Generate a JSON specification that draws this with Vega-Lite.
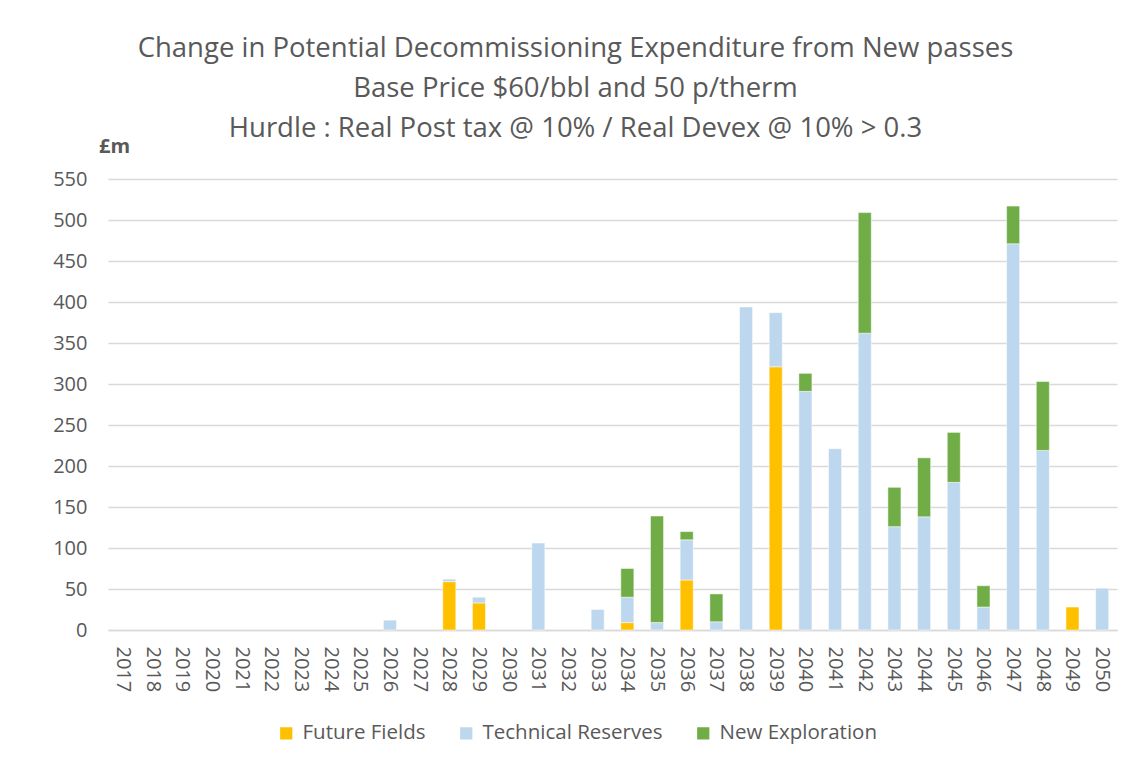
{
  "$schema": "https://vega.github.io/schema/vega-lite/v6.json",
  "width": 1009,
  "height": 451,
  "autosize": {"type": "none"},
  "padding": {"left": 108, "top": 179, "right": 19, "bottom": 139},
  "background": "white",
  "title": {
    "text": ["Change in Potential Decommissioning Expenditure from New passes", "Base Price $60/bbl and 50 p/therm", "Hurdle : Real Post tax @ 10% / Real Devex @ 10% > 0.3"],
    "anchor": "middle",
    "dx": -37,
    "offset": -6,
    "font": "Open Sans",
    "fontSize": 27.5,
    "fontWeight": "normal",
    "color": "#595959",
    "lineHeight": 40
  },
  "data": {
    "values": [
      {"year": "2026", "series": "Technical Reserves", "value": 12},
      {"year": "2028", "series": "Future Fields", "value": 59},
      {"year": "2028", "series": "Technical Reserves", "value": 3},
      {"year": "2029", "series": "Future Fields", "value": 33},
      {"year": "2029", "series": "Technical Reserves", "value": 7},
      {"year": "2031", "series": "Technical Reserves", "value": 106},
      {"year": "2033", "series": "Technical Reserves", "value": 25},
      {"year": "2034", "series": "Future Fields", "value": 9},
      {"year": "2034", "series": "Technical Reserves", "value": 31},
      {"year": "2034", "series": "New Exploration", "value": 35},
      {"year": "2035", "series": "Technical Reserves", "value": 9},
      {"year": "2035", "series": "New Exploration", "value": 130},
      {"year": "2036", "series": "Future Fields", "value": 61},
      {"year": "2036", "series": "Technical Reserves", "value": 49},
      {"year": "2036", "series": "New Exploration", "value": 10},
      {"year": "2037", "series": "Technical Reserves", "value": 10},
      {"year": "2037", "series": "New Exploration", "value": 34},
      {"year": "2038", "series": "Technical Reserves", "value": 394},
      {"year": "2039", "series": "Future Fields", "value": 321},
      {"year": "2039", "series": "Technical Reserves", "value": 66},
      {"year": "2040", "series": "Technical Reserves", "value": 291},
      {"year": "2040", "series": "New Exploration", "value": 22},
      {"year": "2041", "series": "Technical Reserves", "value": 221},
      {"year": "2042", "series": "Technical Reserves", "value": 362},
      {"year": "2042", "series": "New Exploration", "value": 147},
      {"year": "2043", "series": "Technical Reserves", "value": 126},
      {"year": "2043", "series": "New Exploration", "value": 48},
      {"year": "2044", "series": "Technical Reserves", "value": 138},
      {"year": "2044", "series": "New Exploration", "value": 72},
      {"year": "2045", "series": "Technical Reserves", "value": 180},
      {"year": "2045", "series": "New Exploration", "value": 61},
      {"year": "2046", "series": "Technical Reserves", "value": 28},
      {"year": "2046", "series": "New Exploration", "value": 26},
      {"year": "2047", "series": "Technical Reserves", "value": 471},
      {"year": "2047", "series": "New Exploration", "value": 46},
      {"year": "2048", "series": "Technical Reserves", "value": 219},
      {"year": "2048", "series": "New Exploration", "value": 84},
      {"year": "2049", "series": "Future Fields", "value": 28},
      {"year": "2050", "series": "Technical Reserves", "value": 51}
    ]
  },
  "transform": [
    {"calculate": "indexof(['Future Fields', 'Technical Reserves', 'New Exploration'], datum.series)", "as": "stackOrder"}
  ],
  "mark": {"type": "bar", "stroke": "white", "strokeWidth": 0.5},
  "encoding": {
    "x": {
      "field": "year",
      "type": "ordinal",
      "scale": {
        "domain": ["2017", "2018", "2019", "2020", "2021", "2022", "2023", "2024", "2025", "2026", "2027", "2028", "2029", "2030", "2031", "2032", "2033", "2034", "2035", "2036", "2037", "2038", "2039", "2040", "2041", "2042", "2043", "2044", "2045", "2046", "2047", "2048", "2049", "2050"],
        "paddingInner": 0.56,
        "paddingOuter": 0.28
      },
      "axis": {
        "title": null,
        "labelAngle": 90,
        "labelAlign": "left",
        "labelBaseline": "middle",
        "labelFont": "Open Sans",
        "labelFontSize": 20,
        "labelColor": "#595959",
        "labelPadding": 16,
        "ticks": false,
        "domainColor": "#D9D9D9",
        "domainWidth": 1.5
      }
    },
    "y": {
      "field": "value",
      "type": "quantitative",
      "stack": "zero",
      "scale": {"domain": [0, 550], "nice": false},
      "axis": {
        "values": [0, 50, 100, 150, 200, 250, 300, 350, 400, 450, 500, 550],
        "title": "£m",
        "titleAngle": 0,
        "titleX": 6,
        "titleY": -27,
        "titleAlign": "center",
        "titleBaseline": "alphabetic",
        "titleFont": "Open Sans",
        "titleFontSize": 20,
        "titleFontWeight": "bold",
        "titleColor": "#595959",
        "labelFont": "Open Sans",
        "labelFontSize": 20,
        "labelColor": "#595959",
        "labelPadding": 21,
        "ticks": false,
        "domain": false,
        "grid": true,
        "gridColor": "#D9D9D9",
        "gridWidth": 1.5
      }
    },
    "order": {"field": "stackOrder", "type": "quantitative", "sort": "ascending"},
    "color": {
      "field": "series",
      "type": "nominal",
      "sort": ["Future Fields", "Technical Reserves", "New Exploration"],
      "scale": {
        "domain": ["Future Fields", "Technical Reserves", "New Exploration"],
        "range": ["#FFC000", "#BDD7EE", "#70AD47"]
      },
      "legend": {
        "title": null,
        "orient": "none",
        "direction": "horizontal",
        "legendX": 168,
        "legendY": 544,
        "symbolType": "square",
        "symbolSize": 150,
        "symbolStrokeWidth": 0,
        "labelFont": "Open Sans",
        "labelFontSize": 20.5,
        "labelColor": "#595959",
        "labelLimit": 400,
        "columnPadding": 30,
        "labelOffset": 6
      }
    }
  },
  "config": {"view": {"stroke": null}}
}
